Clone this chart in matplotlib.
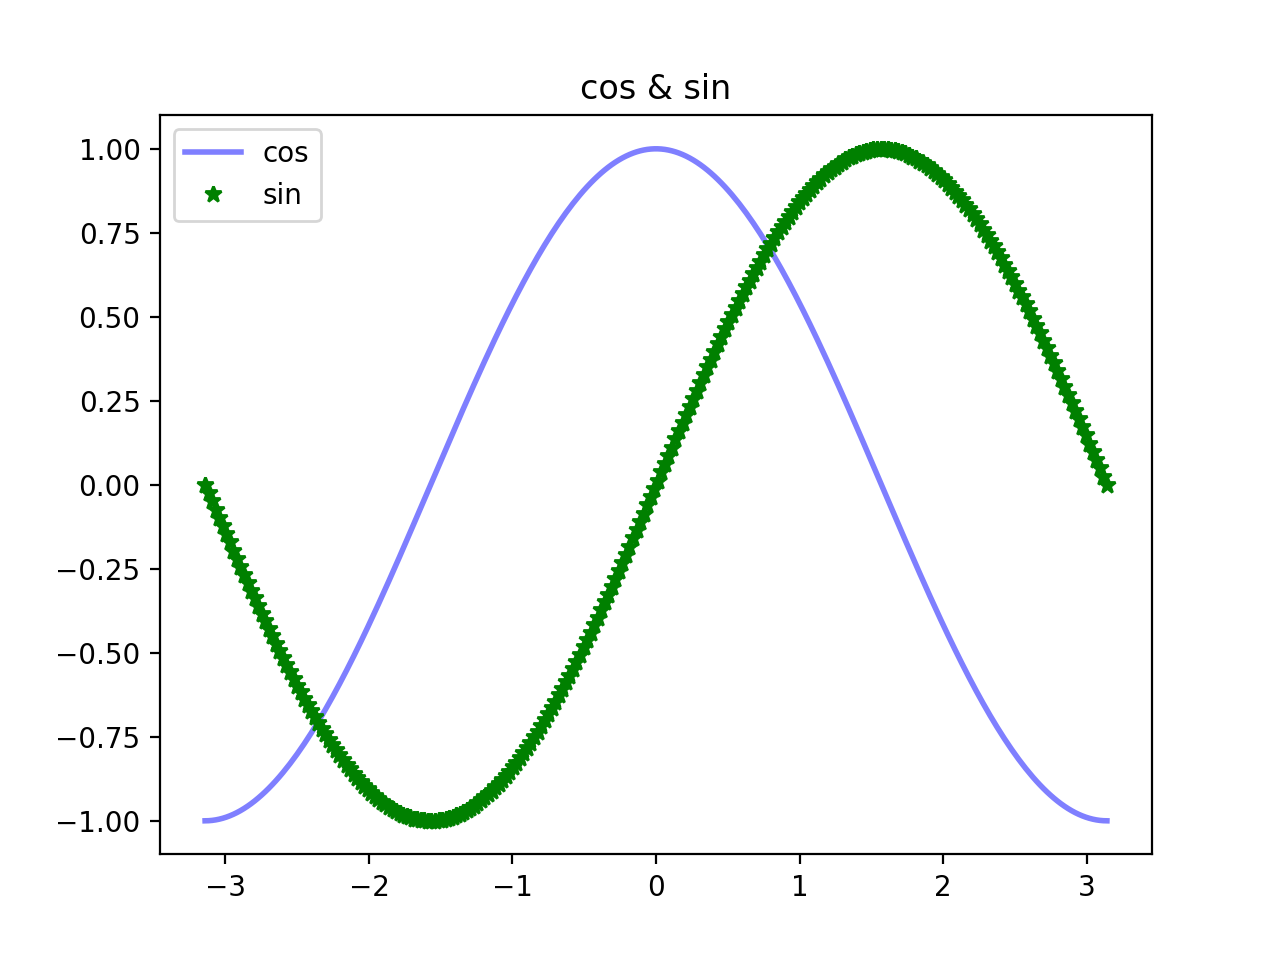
import numpy as np
import matplotlib
matplotlib.use("Agg")
import matplotlib.pyplot as plt

# Data: the chart plots the cosine and sine curves over [-pi, pi]
n_points = 256
x_values = np.linspace(-np.pi, np.pi, n_points, endpoint=True)
cos_values = np.cos(x_values)
sin_values = np.sin(x_values)
series_labels = ["cos", "sin"]
title_text = "cos & sin"

fig, ax = plt.subplots(figsize=(6.4, 4.8), dpi=200)
ax.plot(x_values, cos_values, color="blue", linewidth=2.0, alpha=0.5, label=series_labels[0])
ax.plot(x_values, sin_values, "*", color="green", markersize=6, label=series_labels[1])
ax.set_title(title_text)
ax.legend(loc="upper left")
fig.savefig("out.png", dpi=200)
